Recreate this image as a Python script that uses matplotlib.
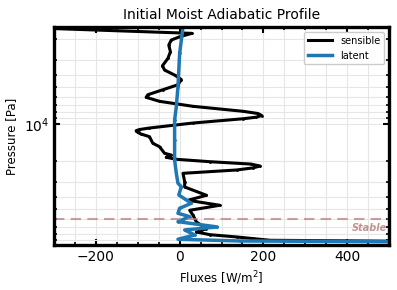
import matplotlib
matplotlib.use("Agg")
import matplotlib.pyplot as plt
from matplotlib.ticker import MultipleLocator
import numpy as np

# Profile data (pressure in Pa, flux in W/m^2)
sens_p = [1600, 1805, 1925, 2048, 2252, 2555, 2894, 3328, 3609, 3967, 4318, 4763,
          5234, 5752, 6041, 6515, 7160, 7869, 8202, 8519, 8796, 9049, 9813, 10784,
          11100, 11346, 11700, 12078, 12708, 14393, 15354, 17391, 17955, 18750, 19467,
          20370, 21300, 22100, 22900, 23824, 25360, 29717, 32850, 38409, 42217, 46387,
          50974, 56016, 63590, 72146, 76774, 80800, 84380, 89820, 93600, 98300]
sens_f = [-410, 29, 0, -20, -26, -22, -28, -41, -36, -12, 4, -4,
          -40, -76, -80, -48, 32, 152, 187, 196, 182, 152, 32, -72,
          -96, -104, -100, -92, -72, -64, -48, -36, -20, -32, -8,
          72, 170, 192, 175, 136, 8, 12, 12, 64, 20, 96,
          24, 32, 40, 64, 40, 72, 136, 216, 900, 900]

lat_p = [1600, 2633, 4946, 7216, 9273, 13526, 19735, 25360, 30630, 32660, 38190,
         44670, 49090, 53950, 57520, 63200, 69870, 73950, 81260, 88140, 91020,
         93600, 98300]
lat_f = [8, 0, -4, -8, -12, -12, -12, -8, -4, 4, -2,
         28, 0, -4, 24, -4, 90, 12, 36, -4, 144,
         900, 900]

stable_p = 60000

fig = plt.figure(figsize=(3.97, 2.90), dpi=100)
ax = fig.add_axes([0.136, 0.155, 0.844, 0.752])

ax.plot(sens_f, sens_p, color="black", lw=2.2, marker=".", ms=2, label="sensible")
ax.plot(lat_f, lat_p, color="#1f77b4", lw=2.5, marker=".", ms=2, label="latent")

ax.axhline(stable_p, color="#b98080", alpha=0.75, lw=1.5, ls=(0, (5, 3)))
ax.text(0.995, 0.08, "Stable", transform=ax.transAxes, ha="right", va="center",
        color="#b98080", alpha=0.85, fontsize=7, fontweight="bold", fontstyle="italic")

ax.set_yscale("log")
ax.set_ylim(98300, 1600)
ax.set_xlim(-300, 500)
ax.xaxis.set_major_locator(MultipleLocator(200))
ax.xaxis.set_minor_locator(MultipleLocator(50))

ax.grid(True, which="both", color="#e6e6e6", lw=0.8)
ax.set_axisbelow(True)
ax.tick_params(which="both", direction="in", top=True, right=True, labelsize=10)
ax.tick_params(which="major", length=4, width=1.5)
ax.tick_params(which="minor", length=2.5, width=1.2)
for s in ax.spines.values():
    s.set_linewidth(2.4)

ax.set_title("Initial Moist Adiabatic Profile", fontsize=10)
ax.set_xlabel("Fluxes [W/m$^2$]", fontsize=8.5)
ax.set_ylabel("Pressure [Pa]", fontsize=8.5)
ax.legend(loc="upper right", fontsize=7, handlelength=2.5, framealpha=1,
          edgecolor="#cccccc")

fig.savefig("out.png", dpi=100)
